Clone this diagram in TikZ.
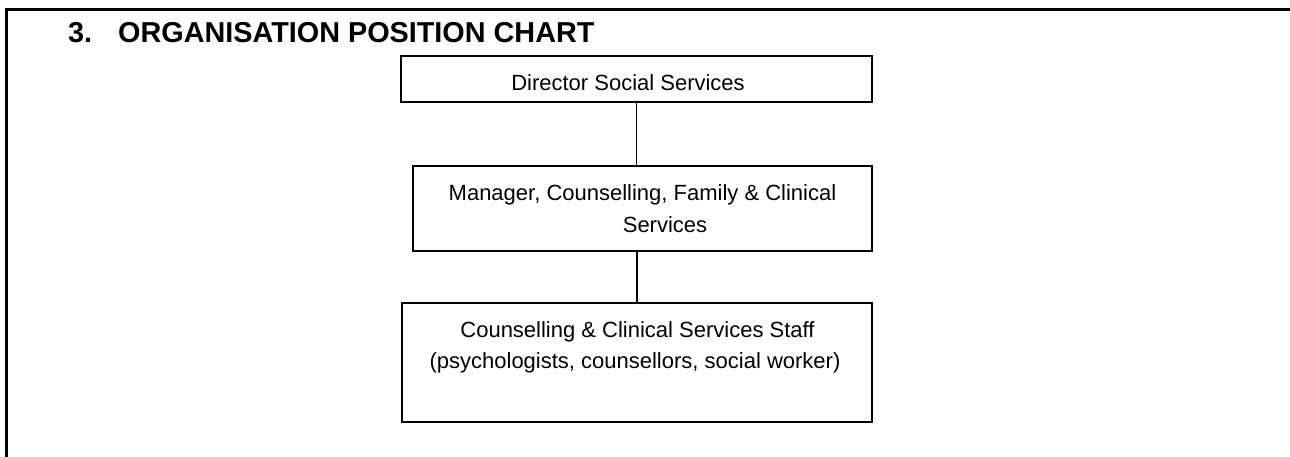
\documentclass[tikz,border=0pt]{standalone}
\usepackage{fontspec}
\setmainfont{Liberation Sans}
\begin{document}
\begin{tikzpicture}[x=1pt,y=-1pt,
  orgbox/.style={draw=black, line width=2pt, rectangle, inner sep=0pt},
  boxtext/.style={anchor=base, inner sep=0pt, font=\fontsize{22}{26}\selectfont},
  link/.style={draw=black, line width=1.5pt},
  frameline/.style={draw=black, line width=3pt}]
\useasboundingbox (0,0) rectangle (1290,457);
% frame (open at right and bottom)
\coordinate (fr1) at (1290,10);
\coordinate (fr2) at (6,10);
\coordinate (fr3) at (6,457);
\draw[frameline] (fr1) -- (4.5,10);
\draw[frameline] (fr2) -- (fr3);
% title
\node[anchor=base west, inner sep=0pt, font=\fontsize{28.8}{34}\selectfont\bfseries] (title) at (68,43)
  {\makebox[50pt][l]{3.}ORGANISATION POSITION CHART};
% boxes
\node[orgbox, minimum width=471pt, minimum height=46pt] (b1) at (636.5,79) {};
\node[orgbox, minimum width=459pt, minimum height=85pt] (b2) at (642.5,208.5) {};
\node[orgbox, minimum width=470pt, minimum height=119pt] (b3) at (637,362.5) {};
% texts
\node[boxtext] (t1) at (628,90.7) {Director Social Services};
\node[boxtext] (t2a) at (642.5,200.7) {Manager, Counselling, Family \& Clinical};
\node[boxtext] (t2b) at (665,232.7) {Services};
\node[boxtext] (t3a) at (637.5,337.7) {Counselling \& Clinical Services Staff};
\node[boxtext] (t3b) at (635,368) {(psychologists, counsellors, social worker)};
% connectors
\draw[link] (b1.south) -- (b1.south |- b2.north);
\draw[link] (b3.north |- b2.south) -- (b3.north);
\end{tikzpicture}
\end{document}
